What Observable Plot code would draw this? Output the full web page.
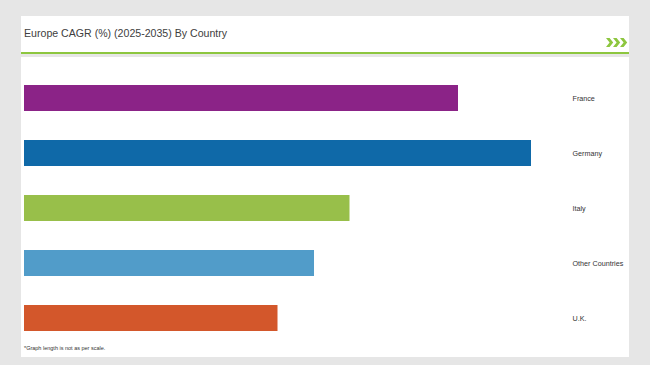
<!DOCTYPE html>
<html>
<head>
<meta charset="utf-8">
<script src="https://cdn.jsdelivr.net/npm/d3@7"></script>
<script src="https://cdn.jsdelivr.net/npm/@observablehq/plot@0.6"></script>
<style>
  html, body { margin: 0; padding: 0; }
  body { width: 650px; height: 365px; background: #e6e6e6; position: relative; overflow: hidden; font-family: "Liberation Sans", Arial, sans-serif; }
  #header { position: absolute; left: 21px; top: 16px; width: 608px; height: 36px; background: #fff; border-bottom: 2px solid #8dc63f; }
  #title { position: absolute; left: 3px; top: 11px; font-size: 10.6px; color: #404040; white-space: nowrap; }
  #chev { position: absolute; left: 585px; top: 22px; }
  #panel { position: absolute; left: 21px; top: 57px; width: 608px; height: 300px; background: #fff; }
  #note { position: absolute; left: 3px; top: 288px; font-size: 5.5px; color: #333; white-space: nowrap; }
</style>
</head>
<body>
<div id="header">
  <div id="title">Europe CAGR (%) (2025-2035) By Country</div>
  <svg id="chev" width="22" height="9" viewBox="0 0 22 9">
    <path d="M0,0 L3.6,0 L7.2,4.5 L3.6,9 L0,9 L3.6,4.5 Z" fill="#8dc63f"/>
    <path d="M7,0 L10.6,0 L14.2,4.5 L10.6,9 L7,9 L10.6,4.5 Z" fill="#8dc63f"/>
    <path d="M14,0 L17.6,0 L21.2,4.5 L17.6,9 L14,9 L17.6,4.5 Z" fill="#8dc63f"/>
  </svg>
</div>
<div id="panel">
  <div id="chart"></div>
  <div id="note">*Graph length is not as per scale.</div>
</div>
<script>
const countries = ["France", "Germany", "Italy", "Other Countries", "U.K."];
const cagr = [4.28, 5.0, 3.21, 2.86, 2.5];
const colors = ["#8b2387", "#0f69a8", "#98bf4a", "#519cc9", "#d3572b"];

const data = countries.map((c, i) => ({country: c, value: cagr[i]}));

const chart = Plot.plot({
  width: 608,
  height: 300,
  marginLeft: 3,
  marginRight: 98,
  marginTop: 28,
  marginBottom: 26,
  style: {background: "transparent", fontFamily: "Liberation Sans, Arial, sans-serif"},
  x: {domain: [0, 5], axis: null},
  y: {domain: countries, paddingInner: 29 / 55, paddingOuter: 0, label: null},
  color: {domain: countries, range: colors},
  marks: [
    Plot.barX(data, {x: "value", y: "country", fill: "country"}),
    Plot.axisY({anchor: "right", tickSize: 0, tickPadding: 41, textAnchor: "start", fontSize: 7.2, fill: "#333", label: null})
  ]
});
document.getElementById("chart").appendChild(chart);
</script>
</body>
</html>
